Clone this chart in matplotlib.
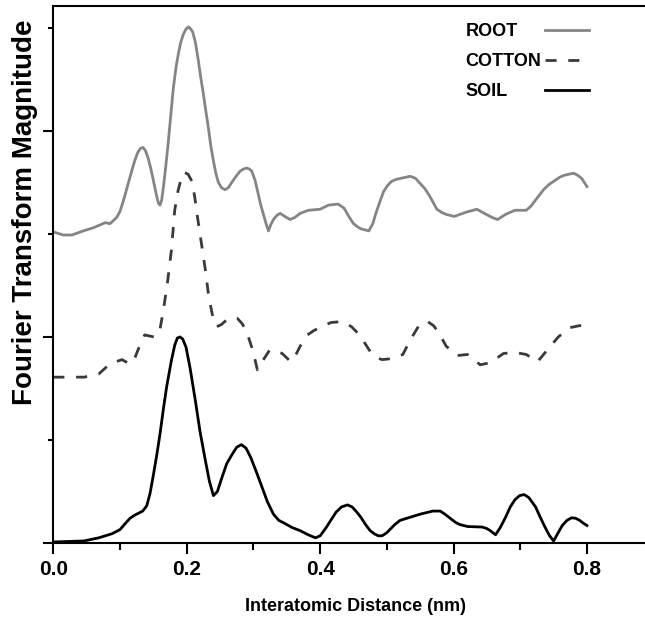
import matplotlib
matplotlib.use("Agg")
import matplotlib.pyplot as plt
from matplotlib.lines import Line2D

plt.rcParams['font.family'] = ['Liberation Sans', 'DejaVu Sans']

# interatomic distance (nm) and stacked FT magnitude for each sample
root_r = [0.000, 0.015, 0.028, 0.045, 0.060, 0.078, 0.085, 0.095, 0.100, 0.105,
          0.111, 0.1175, 0.122, 0.1265, 0.1305, 0.1345, 0.138, 0.142, 0.146, 0.150,
          0.1545, 0.1575, 0.160, 0.1625, 0.165, 0.1685, 0.1725, 0.1765, 0.180, 0.184,
          0.1875, 0.191, 0.195, 0.199, 0.2025, 0.206, 0.209, 0.213, 0.2175, 0.221,
          0.225, 0.2285, 0.2325, 0.236, 0.240, 0.244, 0.2475, 0.252, 0.2575, 0.2625,
          0.2675, 0.274, 0.280, 0.285, 0.290, 0.294, 0.2975, 0.3025, 0.3075, 0.311,
          0.315, 0.319, 0.3225, 0.326, 0.330, 0.335, 0.340, 0.347, 0.355, 0.362,
          0.370, 0.3825, 0.400, 0.4125, 0.427, 0.436, 0.443, 0.450, 0.456, 0.461,
          0.467, 0.473, 0.479, 0.484, 0.490, 0.495, 0.501, 0.507, 0.514, 0.521,
          0.528, 0.535, 0.543, 0.550, 0.557, 0.564, 0.570, 0.575, 0.582, 0.589,
          0.601, 0.618, 0.635, 0.649, 0.658, 0.666, 0.678, 0.692, 0.709, 0.716,
          0.723, 0.729, 0.735, 0.743, 0.752, 0.759, 0.766, 0.773, 0.780, 0.786,
          0.792, 0.796, 0.800]
root_ft = [3.02, 2.99, 2.99, 3.03, 3.06, 3.11, 3.10, 3.16, 3.22, 3.32,
           3.46, 3.61, 3.71, 3.79, 3.83, 3.84, 3.81, 3.74, 3.64, 3.52,
           3.38, 3.30, 3.28, 3.33, 3.45, 3.65, 3.90, 4.18, 4.42, 4.62,
           4.75, 4.86, 4.94, 4.99, 5.01, 4.99, 4.96, 4.86, 4.68, 4.52,
           4.36, 4.20, 4.03, 3.86, 3.71, 3.58, 3.50, 3.45, 3.43, 3.45,
           3.50, 3.56, 3.61, 3.63, 3.64, 3.63, 3.61, 3.52, 3.38, 3.28,
           3.19, 3.10, 3.03, 3.09, 3.14, 3.18, 3.20, 3.17, 3.14, 3.16,
           3.20, 3.23, 3.24, 3.28, 3.29, 3.25, 3.17, 3.10, 3.07, 3.05,
           3.04, 3.03, 3.10, 3.21, 3.32, 3.41, 3.47, 3.51, 3.53, 3.54,
           3.55, 3.56, 3.54, 3.49, 3.44, 3.37, 3.30, 3.24, 3.21, 3.19,
           3.17, 3.21, 3.24, 3.19, 3.16, 3.14, 3.19, 3.23, 3.23, 3.27,
           3.33, 3.38, 3.43, 3.48, 3.52, 3.55, 3.57, 3.58, 3.59, 3.57,
           3.54, 3.50, 3.46]

cotton_r = [0.000, 0.046, 0.068, 0.085, 0.103, 0.114, 0.120, 0.131, 0.137, 0.151,
            0.159, 0.165, 0.171, 0.177, 0.182, 0.187, 0.191, 0.196, 0.202, 0.208,
            0.212, 0.216, 0.222, 0.228, 0.233, 0.239, 0.245, 0.252, 0.262, 0.276,
            0.283, 0.290, 0.299, 0.306, 0.316, 0.324, 0.333, 0.343, 0.356, 0.363,
            0.370, 0.381, 0.390, 0.399, 0.416, 0.433, 0.447, 0.456, 0.464, 0.475,
            0.484, 0.493, 0.507, 0.524, 0.535, 0.549, 0.561, 0.570, 0.578, 0.589,
            0.606, 0.621, 0.640, 0.655, 0.675, 0.692, 0.709, 0.726, 0.740, 0.757,
            0.774, 0.789, 0.800]
cotton_ft = [1.61, 1.61, 1.64, 1.74, 1.78, 1.74, 1.76, 1.94, 2.02, 2.00,
             2.04, 2.26, 2.52, 2.84, 3.23, 3.42, 3.52, 3.60, 3.58, 3.51,
             3.36, 3.17, 2.91, 2.65, 2.39, 2.20, 2.10, 2.12, 2.18, 2.18,
             2.13, 2.05, 1.87, 1.68, 1.79, 1.87, 1.87, 1.84, 1.76, 1.82,
             1.91, 2.02, 2.06, 2.09, 2.14, 2.15, 2.10, 2.04, 1.97, 1.86,
             1.80, 1.78, 1.79, 1.83, 1.97, 2.12, 2.15, 2.11, 2.04, 1.91,
             1.82, 1.83, 1.73, 1.75, 1.84, 1.85, 1.83, 1.76, 1.87, 2.00,
             2.09, 2.11, 2.11]

soil_r = [0.000, 0.046, 0.068, 0.088, 0.100, 0.108, 0.115, 0.122, 0.134, 0.140,
          0.145, 0.150, 0.155, 0.160, 0.165, 0.170, 0.177, 0.182, 0.186, 0.190,
          0.194, 0.199, 0.205, 0.213, 0.220, 0.228, 0.234, 0.240, 0.246, 0.253,
          0.260, 0.268, 0.275, 0.282, 0.289, 0.296, 0.305, 0.313, 0.321, 0.330,
          0.338, 0.347, 0.358, 0.370, 0.382, 0.393, 0.400, 0.408, 0.416, 0.424,
          0.432, 0.441, 0.448, 0.455, 0.461, 0.468, 0.475, 0.481, 0.487, 0.493,
          0.500, 0.506, 0.512, 0.520, 0.535, 0.550, 0.569, 0.580, 0.587, 0.595,
          0.603, 0.609, 0.621, 0.643, 0.650, 0.655, 0.663, 0.670, 0.678, 0.685,
          0.692, 0.699, 0.706, 0.713, 0.723, 0.730, 0.737, 0.744, 0.750, 0.756,
          0.763, 0.770, 0.777, 0.783, 0.789, 0.795, 0.800]
soil_ft = [0.01, 0.02, 0.05, 0.09, 0.13, 0.19, 0.24, 0.27, 0.31, 0.36,
           0.48, 0.66, 0.85, 1.06, 1.30, 1.52, 1.77, 1.92, 1.99, 2.00,
           1.98, 1.90, 1.70, 1.38, 1.08, 0.80, 0.60, 0.46, 0.50, 0.64,
           0.77, 0.86, 0.93, 0.955, 0.92, 0.83, 0.68, 0.54, 0.40, 0.28,
           0.22, 0.19, 0.15, 0.12, 0.08, 0.05, 0.07, 0.14, 0.22, 0.30,
           0.35, 0.37, 0.35, 0.30, 0.25, 0.18, 0.12, 0.09, 0.07, 0.07,
           0.10, 0.14, 0.18, 0.22, 0.25, 0.28, 0.31, 0.31, 0.28, 0.24,
           0.20, 0.18, 0.16, 0.155, 0.14, 0.12, 0.08, 0.15, 0.25, 0.35,
           0.42, 0.46, 0.47, 0.44, 0.35, 0.25, 0.155, 0.07, 0.02, 0.09,
           0.17, 0.22, 0.245, 0.24, 0.22, 0.19, 0.17]

x_ticks = [0.0, 0.2, 0.4, 0.6, 0.8]
x_labels = ['0.0', '0.2', '0.4', '0.6', '0.8']

fig = plt.figure(figsize=(6.45, 6.24), dpi=100)
ax = fig.add_axes([53.3 / 645, 1 - 543 / 624, (645 - 53.3) / 645, 537 / 624])

root_line, = ax.plot(root_r, root_ft, color='#858585', lw=2.0)
cotton_line, = ax.plot(cotton_r, cotton_ft, color='#3a3a3a', lw=2.0, dashes=(4, 4.2))
soil_line, = ax.plot(soil_r, soil_ft, color='black', lw=2.0)

ax.set_xlim(0, 0.887)
ax.set_ylim(0, 5.213)

# axes frame: no right spine
ax.spines['right'].set_visible(False)
for s in ['left', 'bottom', 'top']:
    ax.spines[s].set_linewidth(1.5)

ax.set_xticks(x_ticks)
ax.set_xticklabels(x_labels, fontsize=15, fontweight='bold')
ax.set_xticks([0.1, 0.3, 0.5, 0.7], minor=True)
ax.set_yticks([0, 2, 4])
ax.set_yticklabels([])
ax.set_yticks([1, 3, 5], minor=True)
ax.tick_params(axis='x', which='major', direction='out', length=8, width=1.5, pad=4)
ax.tick_params(axis='x', which='minor', direction='out', length=5, width=1.5)
ax.tick_params(axis='y', which='major', direction='out', length=7, width=1.5)
ax.tick_params(axis='y', which='minor', direction='out', length=3.6, width=1.5)

ax.set_xlabel('Interatomic Distance (nm)', fontsize=13, fontweight='bold')
ax.xaxis.set_label_coords(0.51, -0.102)
ax.set_ylabel('Fourier Transform Magnitude', fontsize=20, fontweight='bold')
ax.yaxis.set_label_coords(-0.026, 0.615)

# legend: labels on the left, line samples lined up on the right
blank = Line2D([], [], linestyle='none')
ax.legend([blank, blank, blank, root_line, cotton_line, soil_line],
          ['ROOT', 'COTTON', 'SOIL', '', '', ''],
          ncol=2, frameon=False, loc='upper left', bbox_to_anchor=(0.616, 0.968),
          borderpad=0, borderaxespad=0, handlelength=2.44, handletextpad=0.2,
          columnspacing=0.22, labelspacing=0.72, prop={'weight': 'bold', 'size': 13})

fig.savefig('out.png', dpi=100)
